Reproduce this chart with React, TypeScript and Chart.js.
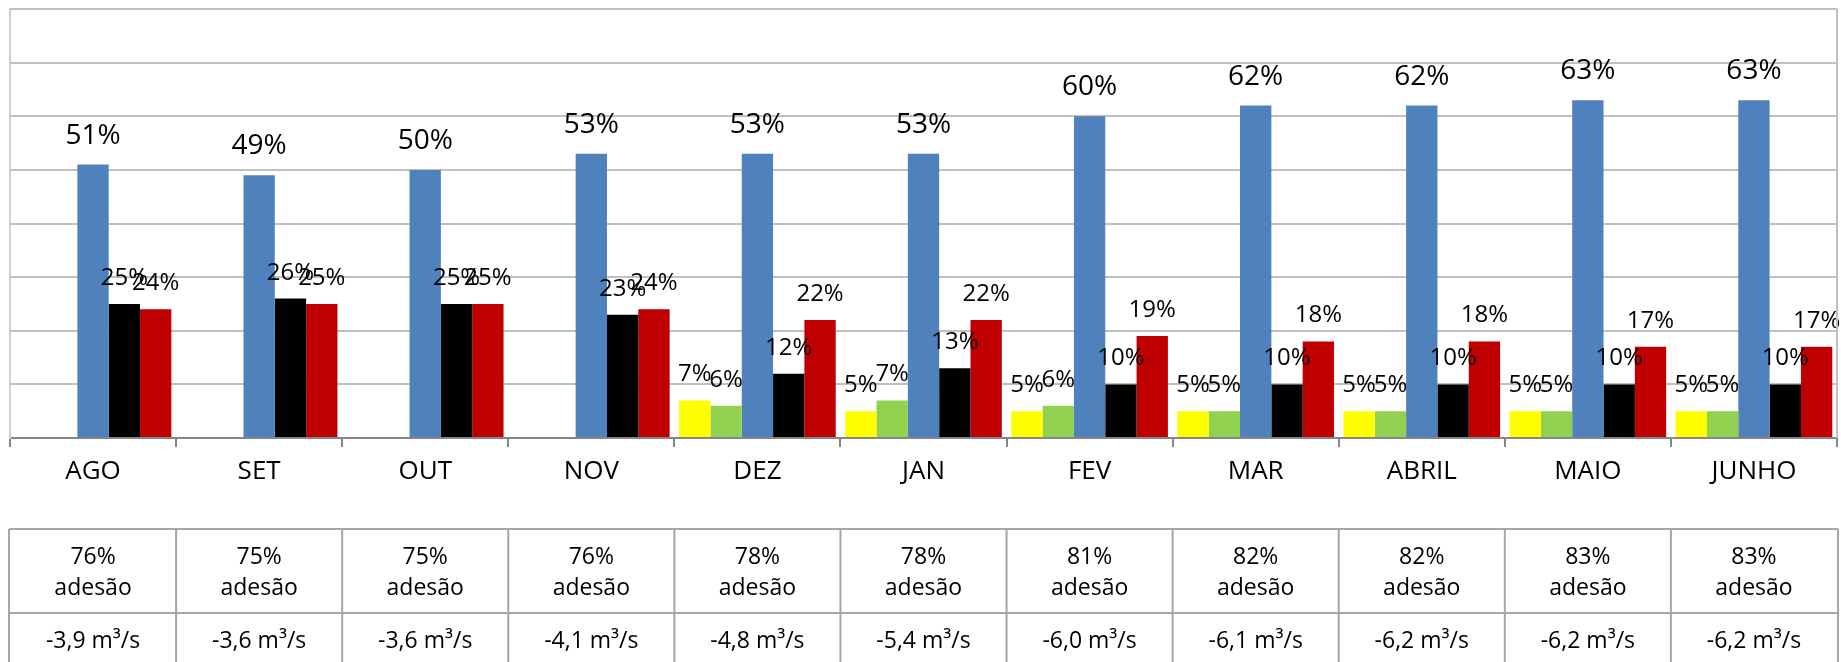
import React, { useEffect, useRef } from "react";
import { Chart, registerables } from "chart.js";

Chart.register(...registerables);

const months = ["AGO", "SET", "OUT", "NOV", "DEZ", "JAN", "FEV", "MAR", "ABRIL", "MAIO", "JUNHO"];
const yellowValues = [null, null, null, null, 7, 5, 5, 5, 5, 5, 5];
const greenValues = [null, null, null, null, 6, 7, 6, 5, 5, 5, 5];
const blueValues = [51, 49, 50, 53, 53, 53, 60, 62, 62, 63, 63];
const blackValues = [25, 26, 25, 23, 12, 13, 10, 10, 10, 10, 10];
const redValues = [24, 25, 25, 24, 22, 22, 19, 18, 18, 17, 17];
const adesaoRow = ["76%", "75%", "75%", "76%", "78%", "78%", "81%", "82%", "82%", "83%", "83%"];
const vazaoRow = ["-3,9 m³/s", "-3,6 m³/s", "-3,6 m³/s", "-4,1 m³/s", "-4,8 m³/s", "-5,4 m³/s", "-6,0 m³/s", "-6,1 m³/s", "-6,2 m³/s", "-6,2 m³/s", "-6,2 m³/s"];

const FONT = "'Open Sans', 'DejaVu Sans', sans-serif";

const labelPlugin = {
  id: "barLabels",
  afterDatasetsDraw(chart: any) {
    const ctx = chart.ctx;
    ctx.save();
    ctx.fillStyle = "#000";
    ctx.textAlign = "center";
    ctx.textBaseline = "alphabetic";
    chart.data.datasets.forEach((ds: any, di: number) => {
      const meta = chart.getDatasetMeta(di);
      const big = di === 2;
      ctx.font = `${big ? 28 : 24}px ${FONT}`;
      meta.data.forEach((bar: any, i: number) => {
        const v = ds.data[i];
        if (v === null || v === undefined) return;
        ctx.fillText(`${v}%`, bar.x, bar.y - (big ? 21 : 19));
      });
    });
    ctx.restore();
  },
};

const framePlugin = {
  id: "frameAndTable",
  afterDraw(chart: any) {
    const ctx = chart.ctx;
    const area = chart.chartArea;
    const xs = chart.scales.x;
    ctx.save();
    ctx.strokeStyle = "#c0c0c0";
    ctx.lineWidth = 2;
    ctx.beginPath();
    ctx.moveTo(area.right, area.top);
    ctx.lineTo(area.right, area.bottom);
    ctx.stroke();

    const n = months.length;
    const step = xs.getPixelForValue(1) - xs.getPixelForValue(0);
    const left = xs.getPixelForValue(0) - step / 2 - 1;
    const right = xs.getPixelForValue(n - 1) + step / 2 + 1;
    const top = 529;
    const mid = 613;
    const bottom = 680;
    ctx.strokeStyle = "#a6a6a6";
    ctx.lineWidth = 2;
    ctx.beginPath();
    ctx.moveTo(left, top);
    ctx.lineTo(right, top);
    ctx.moveTo(left, mid);
    ctx.lineTo(right, mid);
    for (let i = 0; i <= n; i++) {
      let x = xs.getPixelForValue(0) - step / 2 + i * step;
      if (i === 0) x = left;
      if (i === n) x = right;
      ctx.moveTo(x, top);
      ctx.lineTo(x, bottom);
    }
    ctx.stroke();

    ctx.fillStyle = "#000";
    ctx.textAlign = "center";
    ctx.textBaseline = "alphabetic";
    ctx.font = `23px ${FONT}`;
    for (let i = 0; i < n; i++) {
      const cx = xs.getPixelForValue(i);
      ctx.fillText(adesaoRow[i], cx, 564);
      ctx.fillText("adesão", cx, 595);
      ctx.fillText(vazaoRow[i], cx, 648);
    }
    ctx.restore();
  },
};

export default function App() {
  const ref = useRef<HTMLCanvasElement>(null);
  useEffect(() => {
    if (!ref.current) return;
    const common = { categoryPercentage: 0.943, barPercentage: 1.0, borderWidth: 0 };
    const chart = new Chart(ref.current, {
      type: "bar",
      data: {
        labels: months,
        datasets: [
          { label: "amarelo", data: yellowValues, backgroundColor: "#FFFF00", ...common },
          { label: "verde", data: greenValues, backgroundColor: "#92D050", ...common },
          { label: "azul", data: blueValues, backgroundColor: "#4F81BD", ...common },
          { label: "preto", data: blackValues, backgroundColor: "#000000", ...common },
          { label: "vermelho", data: redValues, backgroundColor: "#C00000", ...common },
        ],
      },
      options: {
        responsive: false,
        devicePixelRatio: 1,
        animation: false,
        layout: { padding: { left: 10, right: 4, top: 9, bottom: 0 } },
        plugins: { legend: { display: false }, tooltip: { enabled: false } },
        scales: {
          x: {
            offset: true,
            grid: {
              display: true,
              drawOnChartArea: false,
              drawTicks: true,
              tickLength: 9,
              color: "#868686",
              lineWidth: 2,
            },
            border: { display: true, color: "#868686", width: 2 },
            ticks: {
              font: { family: FONT, size: 26 },
              color: "#000",
              padding: 9,
              maxRotation: 0,
              autoSkip: false,
            },
            afterFit: (s: any) => {
              s.height = 224;
            },
          },
          y: {
            min: 0,
            max: 80,
            ticks: { display: false, stepSize: 10 },
            grid: { color: "#c0c0c0", lineWidth: 2, drawTicks: false },
            border: { display: true, color: "#d0d0d0", width: 2 },
            afterFit: (s: any) => {
              s.width = 0;
            },
          },
        },
      },
      plugins: [labelPlugin, framePlugin],
    });
    return () => chart.destroy();
  }, []);
  return (
    <div style={{ position: "absolute", left: 0, top: 0, width: 1841, height: 662, background: "#fff" }}>
      <canvas ref={ref} width={1841} height={662} style={{ display: "block", width: 1841, height: 662 }} />
    </div>
  );
}
